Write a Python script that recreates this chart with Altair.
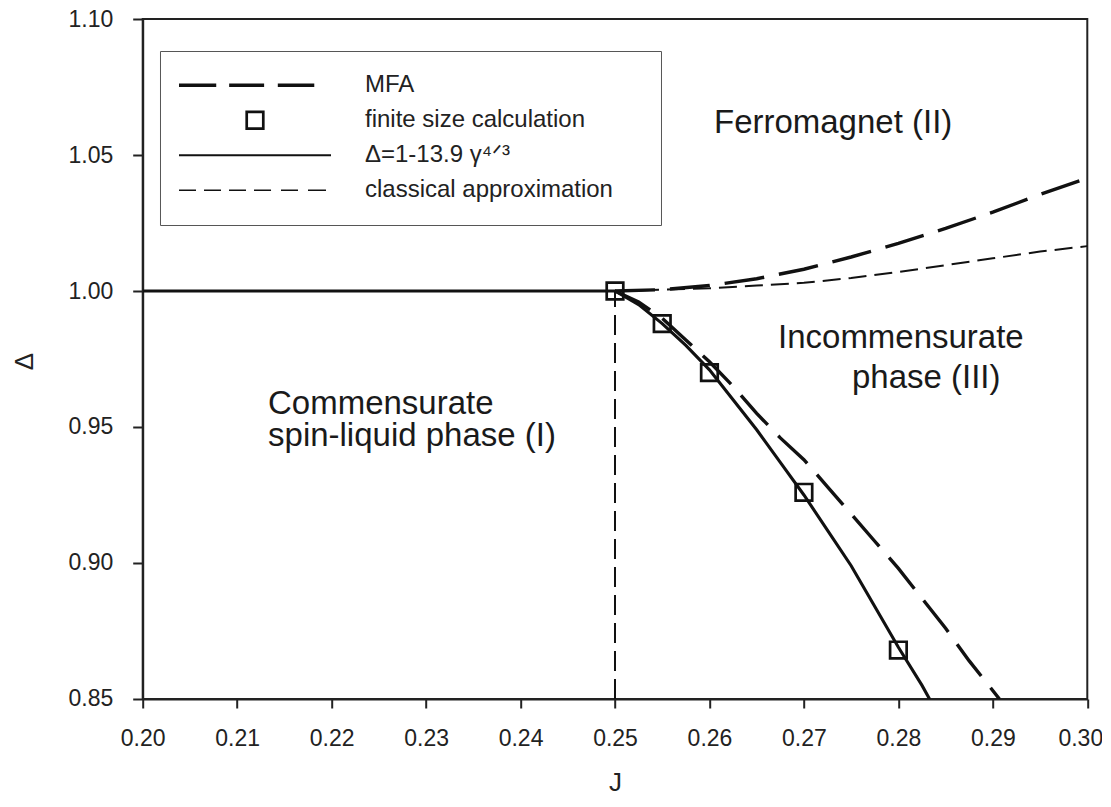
import altair as alt
import pandas as pd

# ---------------- data ----------------
# finite size calculation (open squares)
fs_J = [0.250, 0.255, 0.260, 0.270, 0.280]
fs_D = [1.000, 0.988, 0.970, 0.926, 0.868]

# solid line  Δ = 1 - 13.9 γ^(4/3)  (with flat part Δ = 1 for J < 0.25)
fit_J = [0.200, 0.250, 0.2525, 0.255, 0.2575, 0.260, 0.2625, 0.265, 0.2675,
         0.270, 0.2725, 0.275, 0.2775, 0.280, 0.2825, 0.2833]
fit_D = [1.000, 1.000, 0.995, 0.988, 0.980, 0.971, 0.960, 0.949, 0.937,
         0.925, 0.912, 0.899, 0.884, 0.869, 0.855, 0.850]

# MFA, upper branch
mfa_up_J = [0.250, 0.255, 0.260, 0.265, 0.270, 0.275, 0.280, 0.285, 0.290, 0.295, 0.300]
mfa_up_D = [1.000, 1.0005, 1.002, 1.0045, 1.008, 1.0125, 1.0175, 1.023, 1.029, 1.0355, 1.0415]

# MFA, lower branch
mfa_lo_J = [0.250, 0.2525, 0.255, 0.2575, 0.260, 0.2625, 0.265, 0.2675, 0.270,
            0.2725, 0.275, 0.2775, 0.280, 0.2825, 0.285, 0.2875, 0.2907]
mfa_lo_D = [1.000, 0.996, 0.990, 0.982, 0.974, 0.965, 0.955, 0.946, 0.938,
            0.928, 0.918, 0.908, 0.898, 0.887, 0.876, 0.864, 0.850]

# classical approximation
cl_J = [0.250, 0.255, 0.260, 0.265, 0.270, 0.275, 0.280, 0.285, 0.290, 0.295, 0.300]
cl_D = [1.000, 1.0005, 1.001, 1.002, 1.003, 1.0048, 1.007, 1.0095, 1.012, 1.0145, 1.0165]

# phase boundary (vertical dashed line)
bd_J = [0.250, 0.250]
bd_D = [0.850, 1.000]

# axis ticks
x_ticks = [0.20, 0.21, 0.22, 0.23, 0.24, 0.25, 0.26, 0.27, 0.28, 0.29, 0.30]
y_ticks = [0.85, 0.90, 0.95, 1.00, 1.05, 1.10]

# legend entries
leg_labels = ["MFA", "finite size calculation", "\u0394=1-13.9 \u03b3\u2074\u141f\u00b3",
              "classical approximation"]

# phase annotations (left-aligned, baseline of first line)
ann_text = ["Ferromagnet (II)", "Commensurate\nspin-liquid phase (I)",
            "Incommensurate", "phase (III)"]
ann_J = [0.26048, 0.21327, 0.26726, 0.27509]
ann_D = [1.05809, 0.95478, 0.97904, 0.96434]

# ---------------- styling ----------------
FONT = "Liberation Sans"
INK = "#111111"
SYM_SIZE = 23104  # symbol box of 152 px

leg_paths = [
    "M-1,0H-0.51M-0.34,0H0.12M0.30,0H0.78",
    "M-0.109,-0.109H0.109V0.109H-0.109Z",
    "M-1,0H1",
    "M-1,0H-0.776M-0.671,0H-0.447M-0.342,0H-0.118M-0.013,0H0.211M0.342,0H0.566M0.697,0H0.934",
]
leg_widths = [3.4, 1.3, 3.1, 2.0]

xscale = alt.Scale(domain=[0.20, 0.30], nice=False, zero=False)
yscale = alt.Scale(domain=[0.85, 1.10], nice=False, zero=False)

x_axis = alt.Axis(values=x_ticks, format=".2f", title="J", grid=False,
                  labelFlush=False, labelOverlap=False, labelFontSize=23,
                  labelPadding=20, tickSize=9, tickWidth=2, domainWidth=2,
                  labelOffset={"condition": {"test": "datum.value >= 0.2999", "value": -7},
                               "value": 0},
                  titleFontSize=26, titleFontWeight="normal",
                  titleX=472.3, titleY=92, titleBaseline="alphabetic", titleAlign="center")
y_axis = alt.Axis(values=y_ticks, format=".2f", title="\u0394", grid=False,
                  labelFlush=False, labelOverlap=False, labelFontSize=23,
                  labelPadding=20, tickSize=10, tickWidth=2, domainWidth=2,
                  titleFontSize=26, titleFontWeight="normal", titleAngle=270,
                  titleX=-110.5, titleY=342, titleBaseline="alphabetic", titleAlign="center")


def xy():
    return dict(x=alt.X("J:Q", scale=xscale, axis=x_axis),
                y=alt.Y("D:Q", scale=yscale, axis=y_axis))


fit_df = pd.DataFrame({"J": fit_J, "D": fit_D})
mfa_df = pd.concat([
    pd.DataFrame({"J": mfa_up_J, "D": mfa_up_D, "b": "up"}),
    pd.DataFrame({"J": mfa_lo_J, "D": mfa_lo_D, "b": "lo"}),
])
cl_df = pd.DataFrame({"J": cl_J, "D": cl_D})
bd_df = pd.DataFrame({"J": bd_J, "D": bd_D})
pts_df = pd.DataFrame({"J": fs_J, "D": fs_D, "series": "finite size calculation"})
ann_df = pd.DataFrame({"J": ann_J, "D": ann_D, "t": ann_text})

fit_line = alt.Chart(fit_df).mark_line(color=INK, strokeWidth=3.1, clip=True).encode(
    **xy(), order="J:Q")

mfa_line = alt.Chart(mfa_df).mark_line(color=INK, strokeWidth=3.4, strokeDash=[40, 15],
                                       clip=True).encode(**xy(), detail="b:N", order="J:Q")

cl_line = alt.Chart(cl_df).mark_line(color=INK, strokeWidth=2.0, strokeDash=[18, 8],
                                     clip=True).encode(**xy(), order="J:Q")

bd_line = alt.Chart(bd_df).mark_line(color=INK, strokeWidth=2.0, strokeDash=[20, 8],
                                     clip=True).encode(**xy(), order="D:Q")

LEG = dict(title="|", titleOrient="right", titleOpacity=0, titleFontSize=10,
           titlePadding=28)

points = alt.Chart(pts_df).mark_point(filled=False, size=SYM_SIZE, opacity=1,
                                      color=INK).encode(
    **xy(),
    shape=alt.Shape("series:N", scale=alt.Scale(domain=leg_labels, range=leg_paths),
                    legend=alt.Legend(**LEG)),
    strokeWidth=alt.StrokeWidth("series:N",
                                scale=alt.Scale(domain=leg_labels, range=leg_widths),
                                legend=alt.Legend(**LEG)),
)

ann = alt.Chart(ann_df).mark_text(
    align="left", baseline="alphabetic", font=FONT, fontSize=33, color="#1a1a1a",
    lineBreak="\n", lineHeight=32,
).encode(**xy(), text="t:N")

chart = alt.layer(
    bd_line, cl_line, mfa_line, fit_line, points, ann
).properties(
    width=944.6, height=680,
    autosize=alt.AutoSizeParams(type="none"),
    padding={"left": 134.7, "top": 11, "right": 15, "bottom": 98},
).configure(
    font=FONT,
).configure_view(
    stroke="#222222", strokeWidth=2,
).configure_axis(
    labelFont=FONT, titleFont=FONT, labelColor="#222222", titleColor="#222222",
    tickColor="#222222", domainColor="#222222",
).configure_legend(
    orient="none", legendX=17.3, legendY=32, padding=17,
    strokeColor="#555555", fillColor="white",
    clipHeight=34.5, rowPadding=0, labelOffset=32, labelLimit=600,
    labelFont=FONT, labelFontSize=24, labelColor="#222222",
    symbolSize=SYM_SIZE, symbolStrokeColor=INK, symbolFillColor="transparent",
    symbolOpacity=1,
)

chart.save("out.html", embed_options={"renderer": "svg", "actions": False})
